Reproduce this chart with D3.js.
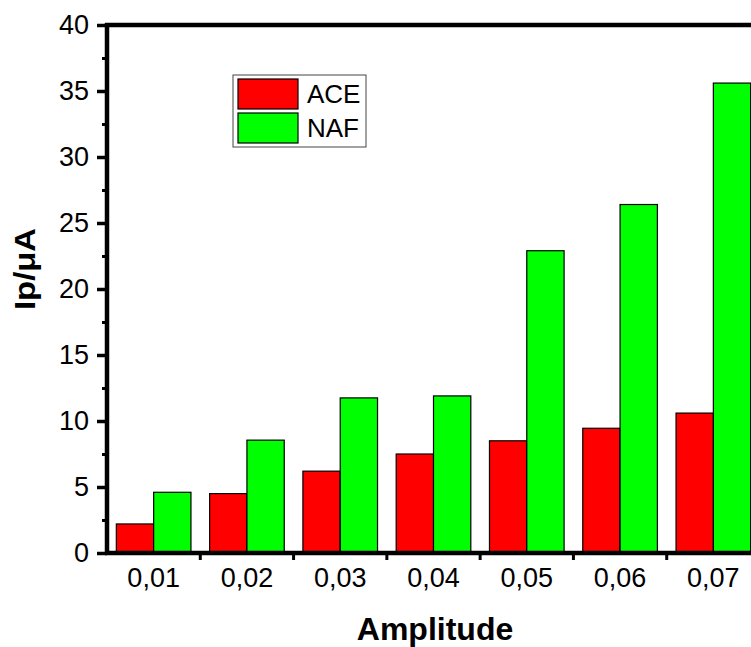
<!DOCTYPE html>
<html>
<head>
<meta charset="utf-8">
<script src="https://cdn.jsdelivr.net/npm/d3@7"></script>
<style>
  body { margin: 0; background: #fff; }
  svg { display: block; font-family: "Liberation Sans", Arial, sans-serif; }
</style>
</head>
<body>
<script>
// data
const amplitudes = ["0,01", "0,02", "0,03", "0,04", "0,05", "0,06", "0,07"];
const seriesNames = ["ACE", "NAF"];
const aceValues = [2.2, 4.5, 6.2, 7.5, 8.5, 9.45, 10.6];
const nafValues = [4.6, 8.55, 11.75, 11.9, 22.9, 26.4, 35.6];
const yTicks = [0, 5, 10, 15, 20, 25, 30, 35, 40];
const yMinorTicks = [2.5, 7.5, 12.5, 17.5, 22.5, 27.5, 32.5, 37.5];

const colors = { ACE: "#ff0000", NAF: "#00ff00" };

const width = 751, height = 647;
const plotLeft = 107, plotTop = 25, plotBottom = 553, plotRight = 760;

const data = amplitudes.map(function(a, i) {
  return { amp: a, ACE: aceValues[i], NAF: nafValues[i] };
});

const svg = d3.select("body").append("svg")
  .attr("width", width)
  .attr("height", height);

const x0 = d3.scaleBand()
  .domain(amplitudes)
  .range([plotLeft, plotRight])
  .paddingInner(0.2)
  .paddingOuter(0.1);

const x1 = d3.scaleBand()
  .domain(seriesNames)
  .range([0, x0.bandwidth()]);

const y = d3.scaleLinear()
  .domain([0, 40])
  .range([plotBottom, plotTop]);

// bars
const groups = svg.selectAll(".group")
  .data(data)
  .enter().append("g")
  .attr("class", "group")
  .attr("transform", function(d) { return "translate(" + x0(d.amp) + ",0)"; });

groups.selectAll("rect")
  .data(function(d) { return seriesNames.map(function(s) { return { key: s, value: d[s] }; }); })
  .enter().append("rect")
  .attr("x", function(d) { return x1(d.key); })
  .attr("y", function(d) { return y(d.value); })
  .attr("width", x1.bandwidth())
  .attr("height", function(d) { return y(0) - y(d.value); })
  .style("fill", function(d) { return colors[d.key]; })
  .style("stroke", "#000")
  .style("stroke-width", 1.2);

// y axis
const yAxis = svg.append("g")
  .attr("transform", "translate(" + plotLeft + ",0)")
  .call(d3.axisLeft(y).tickValues(yTicks).tickSize(10).tickPadding(8).tickFormat(d3.format("d")));
yAxis.select(".domain").remove();
yAxis.selectAll(".tick line").attr("stroke-width", 3.5);
yAxis.selectAll(".tick text")
  .style("font-size", "27px")
  .style("font-family", "'Liberation Sans', Arial, sans-serif")
  .attr("fill", "#000");

const yMinor = svg.append("g")
  .attr("transform", "translate(" + plotLeft + ",0)")
  .call(d3.axisLeft(y).tickValues(yMinorTicks).tickSize(5).tickFormat(""));
yMinor.select(".domain").remove();
yMinor.selectAll(".tick line").attr("stroke-width", 3);

// x axis ticks between groups
const step = x0.step();
svg.selectAll(".xtick")
  .data(amplitudes.slice(1))
  .enter().append("line")
  .attr("class", "xtick")
  .attr("x1", function(d) { return x0(d) - step * 0.1; })
  .attr("x2", function(d) { return x0(d) - step * 0.1; })
  .attr("y1", plotBottom)
  .attr("y2", plotBottom + 7)
  .attr("stroke", "#000")
  .attr("stroke-width", 3);

svg.selectAll(".xlabel")
  .data(amplitudes)
  .enter().append("text")
  .attr("class", "xlabel")
  .attr("x", function(d) { return x0(d) + x0.bandwidth() / 2; })
  .attr("y", 587)
  .attr("text-anchor", "middle")
  .style("font-size", "27px")
  .text(function(d) { return d; });

// frame lines
svg.append("line")
  .attr("x1", plotLeft - 2).attr("x2", width)
  .attr("y1", plotBottom).attr("y2", plotBottom)
  .attr("stroke", "#000").attr("stroke-width", 4.5);
svg.append("line")
  .attr("x1", plotLeft - 2).attr("x2", width)
  .attr("y1", plotTop).attr("y2", plotTop)
  .attr("stroke", "#000").attr("stroke-width", 4.5);
svg.append("line")
  .attr("x1", plotLeft).attr("x2", plotLeft)
  .attr("y1", plotTop - 2).attr("y2", plotBottom + 2)
  .attr("stroke", "#000").attr("stroke-width", 4.5);

// axis titles
svg.append("text")
  .attr("x", 435)
  .attr("y", 640)
  .attr("text-anchor", "middle")
  .style("font-size", "32px")
  .style("font-weight", "bold")
  .text("Amplitude");

svg.append("text")
  .attr("transform", "translate(35,269) rotate(-90)")
  .attr("text-anchor", "middle")
  .attr("textLength", 82)
  .attr("lengthAdjust", "spacingAndGlyphs")
  .style("font-size", "29px")
  .style("font-weight", "bold")
  .text("Ip/μA");

// legend
const legend = svg.append("g").attr("transform", "translate(233,75)");
legend.append("rect")
  .attr("width", 133)
  .attr("height", 72)
  .attr("fill", "#fff")
  .attr("stroke", "#444")
  .attr("stroke-width", 1);

const items = legend.selectAll(".legend")
  .data(seriesNames)
  .enter().append("g")
  .attr("class", "legend")
  .attr("transform", function(d, i) { return "translate(5," + (4 + i * 34) + ")"; });

items.append("rect")
  .attr("width", 60)
  .attr("height", 30)
  .style("fill", function(d) { return colors[d]; })
  .style("stroke", "#000")
  .style("stroke-width", 1.2);

items.append("text")
  .attr("x", 69)
  .attr("y", 15)
  .attr("dy", ".36em")
  .style("font-size", "26px")
  .text(function(d) { return d; });
</script>
</body>
</html>
